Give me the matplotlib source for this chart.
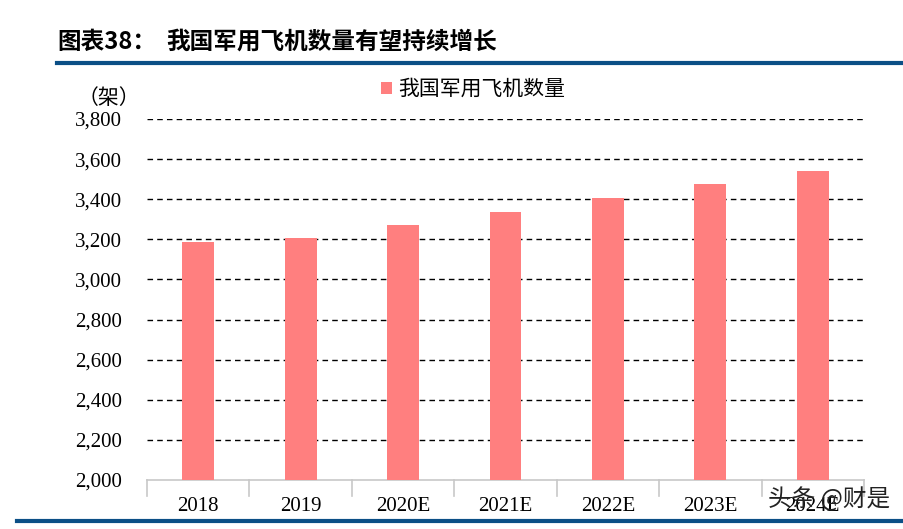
import numpy as np
import matplotlib.pyplot as plt
from matplotlib.lines import Line2D

plt.rcParams['font.family'] = ['Liberation Serif', 'Noto Sans CJK SC']

years = ["2018", "2019", "2020E", "2021E", "2022E", "2023E", "2024E"]
counts = [3185, 3209, 3271, 3337, 3404, 3474, 3542]
yticks = [2000, 2200, 2400, 2600, 2800, 3000, 3200, 3400, 3600, 3800]

bar_color = "#ff7f7f"
blue = "#0b4f86"

fig = plt.figure(figsize=(9.04, 5.29), dpi=100)
ax = fig.add_axes([147 / 904, 1 - 480 / 529, (864 - 147) / 904, (480 - 119) / 529])

x = np.arange(len(years))
ax.bar(x, counts, width=0.31, color=bar_color, zorder=3, label="我国军用飞机数量")
ax.set_xlim(-0.5, len(years) - 0.5)
ax.set_ylim(2000, 3800)
ax.set_yticks(yticks)
ax.set_yticklabels([f"{v:,}" for v in yticks], fontsize=15)
ax.tick_params(axis="y", length=0, pad=18)
for v in yticks[1:]:
    ax.axhline(v, color="black", lw=1, ls=(0, (4, 3)), zorder=1)

ax.set_xticks(x)
ax.set_xticklabels(years, fontsize=15)
ax.tick_params(axis="x", length=0, pad=12)
for b in np.arange(-0.5, len(years), 1.0):
    ax.plot([b, b], [0, -0.045], transform=ax.get_xaxis_transform(), color="#c8c8c8",
            lw=1.2, clip_on=False)

for s in ["top", "right", "left"]:
    ax.spines[s].set_visible(False)
ax.spines["bottom"].set_color("#c8c8c8")
ax.spines["bottom"].set_linewidth(1.2)

ax.legend(loc="upper center", bbox_to_anchor=(0.455, 1.165), frameon=False,
          handlelength=0.55, handleheight=0.55, handletextpad=0.3,
          prop={"family": ["Noto Sans CJK SC"], "size": 15})

fig.text(109 / 904, 1 - 98 / 529, "（架）", fontsize=15, ha="center", va="center",
         family=["Noto Sans CJK SC"])

fig.text(57 / 904, 1 - 42 / 529, "图表38：", fontsize=17, fontweight="bold",
         ha="left", va="center", family=["Noto Sans CJK SC"])
fig.text(166 / 904, 1 - 42 / 529, "我国军用飞机数量有望持续增长", fontsize=17,
         fontweight="bold", ha="left", va="center", family=["Noto Sans CJK SC"])

fig.add_artist(Line2D([57 / 904, 1.0], [1 - 63 / 529] * 2, color=blue, lw=3,
                      transform=fig.transFigure))
fig.add_artist(Line2D([17 / 904, 1.0], [1 - 521 / 529] * 2, color=blue, lw=3,
                      transform=fig.transFigure))

# watermark overlapping the last tick label, as in the source image
fig.text(768 / 904, 1 - 499 / 529, "头条 @财是", fontsize=17, ha="left", va="center",
         color="#222222", family=["Noto Sans CJK SC"], zorder=10)

fig.savefig("out.png", dpi=100, facecolor="white")
